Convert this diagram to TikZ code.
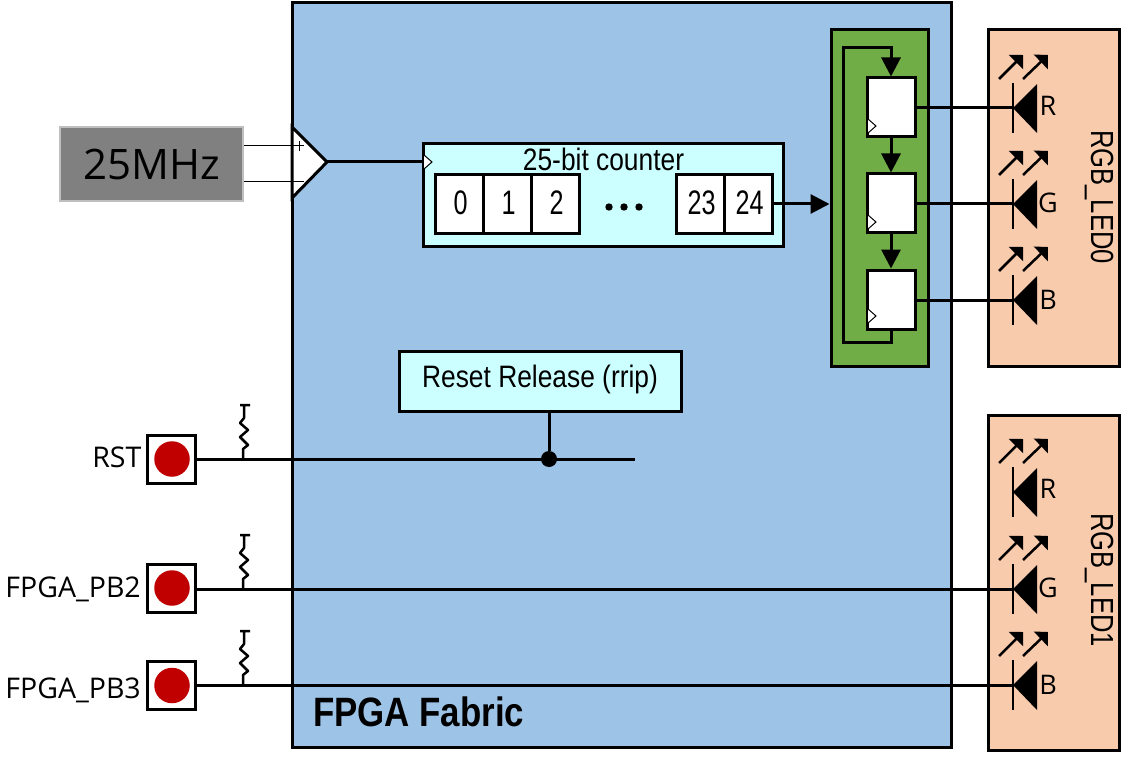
\documentclass[tikz,border=0pt]{standalone}
\usepackage{fontspec}
\setmainfont{Open Sans}
\newfontfamily\narrowfont[FakeStretch=0.85]{Liberation Sans}
\newfontfamily\ledfont[FakeStretch=0.8]{Liberation Sans}
\newfontfamily\slimfont[FakeStretch=0.74]{Liberation Sans}
\usetikzlibrary{arrows.meta}
\definecolor{fabricblue}{HTML}{9DC3E6}
\definecolor{cellcyan}{HTML}{CCFFFF}
\definecolor{syncgreen}{HTML}{70AD47}
\definecolor{ledpeach}{HTML}{F8CBAD}
\definecolor{btnred}{HTML}{C00000}
\newcommand{\bitnum}[1]{\hspace{3pt}\raisebox{2pt}{#1}}
\tikzset{
	box/.style = {draw, line width=3pt, inner sep=0pt},
	cell/.style = {box, fill=white, minimum width=48pt, minimum height=59pt, font=\slimfont\fontsize{34}{34}\selectfont},
	ffbox/.style = {box, fill=white, minimum width=48pt, minimum height=59pt},
	btnbox/.style = {box, fill=white, minimum width=48pt, minimum height=48pt},
	btnlamp/.style = {circle, fill=btnred, minimum size=35.5pt, inner sep=0pt},
	tag/.style = {font=\fontsize{27}{27}\selectfont, inner sep=0pt},
	pintag/.style = {font=\fontsize{28.5}{28.5}\selectfont, inner sep=0pt, anchor=base east},
	ledname/.style = {rotate=-90, anchor=base, font=\ledfont\fontsize{32}{32}\selectfont, inner sep=0pt},
	wire/.style = {line width=3pt},
	flow/.style = {wire, -{Triangle[length=19pt,width=19pt]}},
	clk/.style = {line width=1pt, fill=white},
	ledsym/.pic = {
		\coordinate (-k) at (0,0);
		\draw[line width=2.5pt] (0,-25) -- (0,25);
		\fill (0,0) -- (24,-24) -- (24,25) -- cycle;
		\draw[line width=2.5pt, -{Triangle[length=10pt,width=20pt]}] (-14,-29) -- (10,-53);
		\draw[line width=2.5pt, -{Triangle[length=10pt,width=20pt]}] (10,-29) -- (35,-53);
	},
	pullup/.pic = {
		\coordinate (-b) at (0,0);
		\draw[line width=2.5pt, line join=round] (-3,-54) -- (7,-54) (1,-54) -- (1,-41) -- (-3,-36) -- (5,-29) -- (-3,-22) -- (5,-14) -- (0,-10) -- (0,0);
	}
}
\begin{document}
\begin{tikzpicture}[x=1pt, y=-1pt]
	\useasboundingbox (0,0) rectangle (1131,759);
	% main blocks
	\node[box, fill=fabricblue, minimum width=659pt, minimum height=744pt] (fabric) at (621.5,375) {};
	\node[anchor=west, inner sep=0pt, font=\narrowfont\bfseries\fontsize{41}{41}\selectfont] (fabriclabel) at (313,712) {FPGA Fabric};
	\node[draw=black!25, line width=1.5pt, fill=black!50, inner sep=0pt, minimum width=183pt, minimum height=74pt, font=\fontsize{42}{42}\selectfont] (osc) at (151.5,164) {25MHz};
	\node[box, fill=cellcyan, minimum width=360pt, minimum height=102pt] (counter) at (603,195) {};
	\node[anchor=base, font=\narrowfont\fontsize{31}{31}\selectfont, inner sep=0pt] (counterlabel) at (603.5,171) {25-bit counter};
	\node[box, fill=cellcyan, minimum width=282pt, minimum height=60pt] (rrip) at (540,381) {};
	\node[font=\narrowfont\fontsize{31}{31}\selectfont, inner sep=0pt] (rriplabel) at (540,379) {Reset Release (rrip)};
	\node[box, fill=syncgreen, minimum width=97pt, minimum height=336pt] (sync) at (879.5,198) {};
	\node[box, fill=ledpeach, minimum width=131pt, minimum height=336pt] (led0) at (1053.5,198) {};
	\node[box, fill=ledpeach, minimum width=131pt, minimum height=335pt] (led1) at (1053.5,582.5) {};
	\node[ledname] (led0label) at (1091,197) {RGB\_LED0};
	\node[ledname] (led1label) at (1091,580) {RGB\_LED1};

	% differential buffer
	\coordinate (bufa) at (292,127);
	\coordinate (bufb) at (292,198);
	\coordinate (bufo) at (327,162);
	\draw[wire, fill=white] (bufa) -- (bufo) -- (bufb) -- cycle;
	\coordinate (bufp) at (304,146);
	\coordinate (bufn) at (304,182);
	\draw[line width=1pt] (osc.east |- bufp) -- (bufp);
	\draw[line width=1pt] (osc.east |- bufn) -- (bufn);
	\draw[line width=1pt] (299,141) -- (299,151);
	\draw[wire] (bufo) -- (counter.west |- bufo);
	\draw[clk] (424,155) -- (432,162) -- (424,169);

	% counter bits
	\node[cell] (b0) at (459,204) {\bitnum{0}};
	\node[cell] (b1) at (507,204) {\bitnum{1}};
	\node[cell] (b2) at (555,204) {\bitnum{2}};
	\node[cell] (b23) at (700,204) {\bitnum{23}};
	\node[cell] (b24) at (748,204) {\bitnum{24}};
	\fill (609,207) circle (3.7pt) (624,207) circle (3.7pt) (639,207) circle (3.7pt);
	\draw[flow] (b24.east) -- (sync.west |- b24.east);

	% sync flops
	\node[ffbox] (ff0) at (891,107.5) {};
	\node[ffbox] (ff1) at (891,203.5) {};
	\node[ffbox] (ff2) at (891,299.5) {};
	\draw[clk] (868,119) -- (876,126) -- (868,133);
	\draw[clk] (868,215) -- (876,222) -- (868,229);
	\draw[clk] (868,309) -- (876,316) -- (868,323);
	\draw[flow] (ff0) -- (ff1);
	\draw[flow] (ff1) -- (ff2);
	\draw[flow] (ff2.south) -- (891,342) -- (843,342) -- (843,48) -- (891,48) -- (ff0.north);

	% leds
	\pic (r0) at (1013,108) {ledsym};
	\pic (g0) at (1013,204) {ledsym};
	\pic (b0led) at (1013,300) {ledsym};
	\pic (r1) at (1013,492) {ledsym};
	\pic (g1) at (1013,589) {ledsym};
	\pic (b1led) at (1013,685) {ledsym};
	\node[tag] (r0label) at (1048,106) {R};
	\node[tag] (g0label) at (1048,203) {G};
	\node[tag] (b0label) at (1048,300) {B};
	\node[tag] (r1label) at (1048,489) {R};
	\node[tag] (g1label) at (1048,588) {G};
	\node[tag] (b1label) at (1048,685) {B};
	\draw[wire] (ff0.east |- r0-k) -- (r0-k);
	\draw[wire] (ff1.east |- g0-k) -- (g0-k);
	\draw[wire] (ff2.east |- b0led-k) -- (b0led-k);

	% push buttons
	\node[btnbox] (rstbtn) at (171,459) {};
	\node[btnbox] (pb2btn) at (171,588) {};
	\node[btnbox] (pb3btn) at (171,685) {};
	\node[btnlamp] at (172,459) {};
	\node[btnlamp] at (172,588) {};
	\node[btnlamp] at (172,685.5) {};
	\node[pintag] (rstlabel) at (141.5,467) {RST};
	\node[pintag] (pb2label) at (141,597) {FPGA\_PB2};
	\node[pintag] (pb3label) at (141,698) {FPGA\_PB3};
	\pic (rrst) at (243,459) {pullup};
	\pic (rpb2) at (243,589) {pullup};
	\pic (rpb3) at (243,685) {pullup};

	% reset nets
	\coordinate (rstend) at (635,459);
	\draw[wire] (rstbtn.east) -- (rstend);
	\draw[wire] (pb2btn.east |- g1-k) -- (g1-k);
	\draw[wire] (pb3btn.east) -- (b1led-k);
	\node[circle, fill=black, minimum size=16pt, inner sep=0pt] (rstdot) at (549,459) {};
	\draw[wire] (rstdot |- rrip.south) -- (rstdot);
\end{tikzpicture}
\end{document}
